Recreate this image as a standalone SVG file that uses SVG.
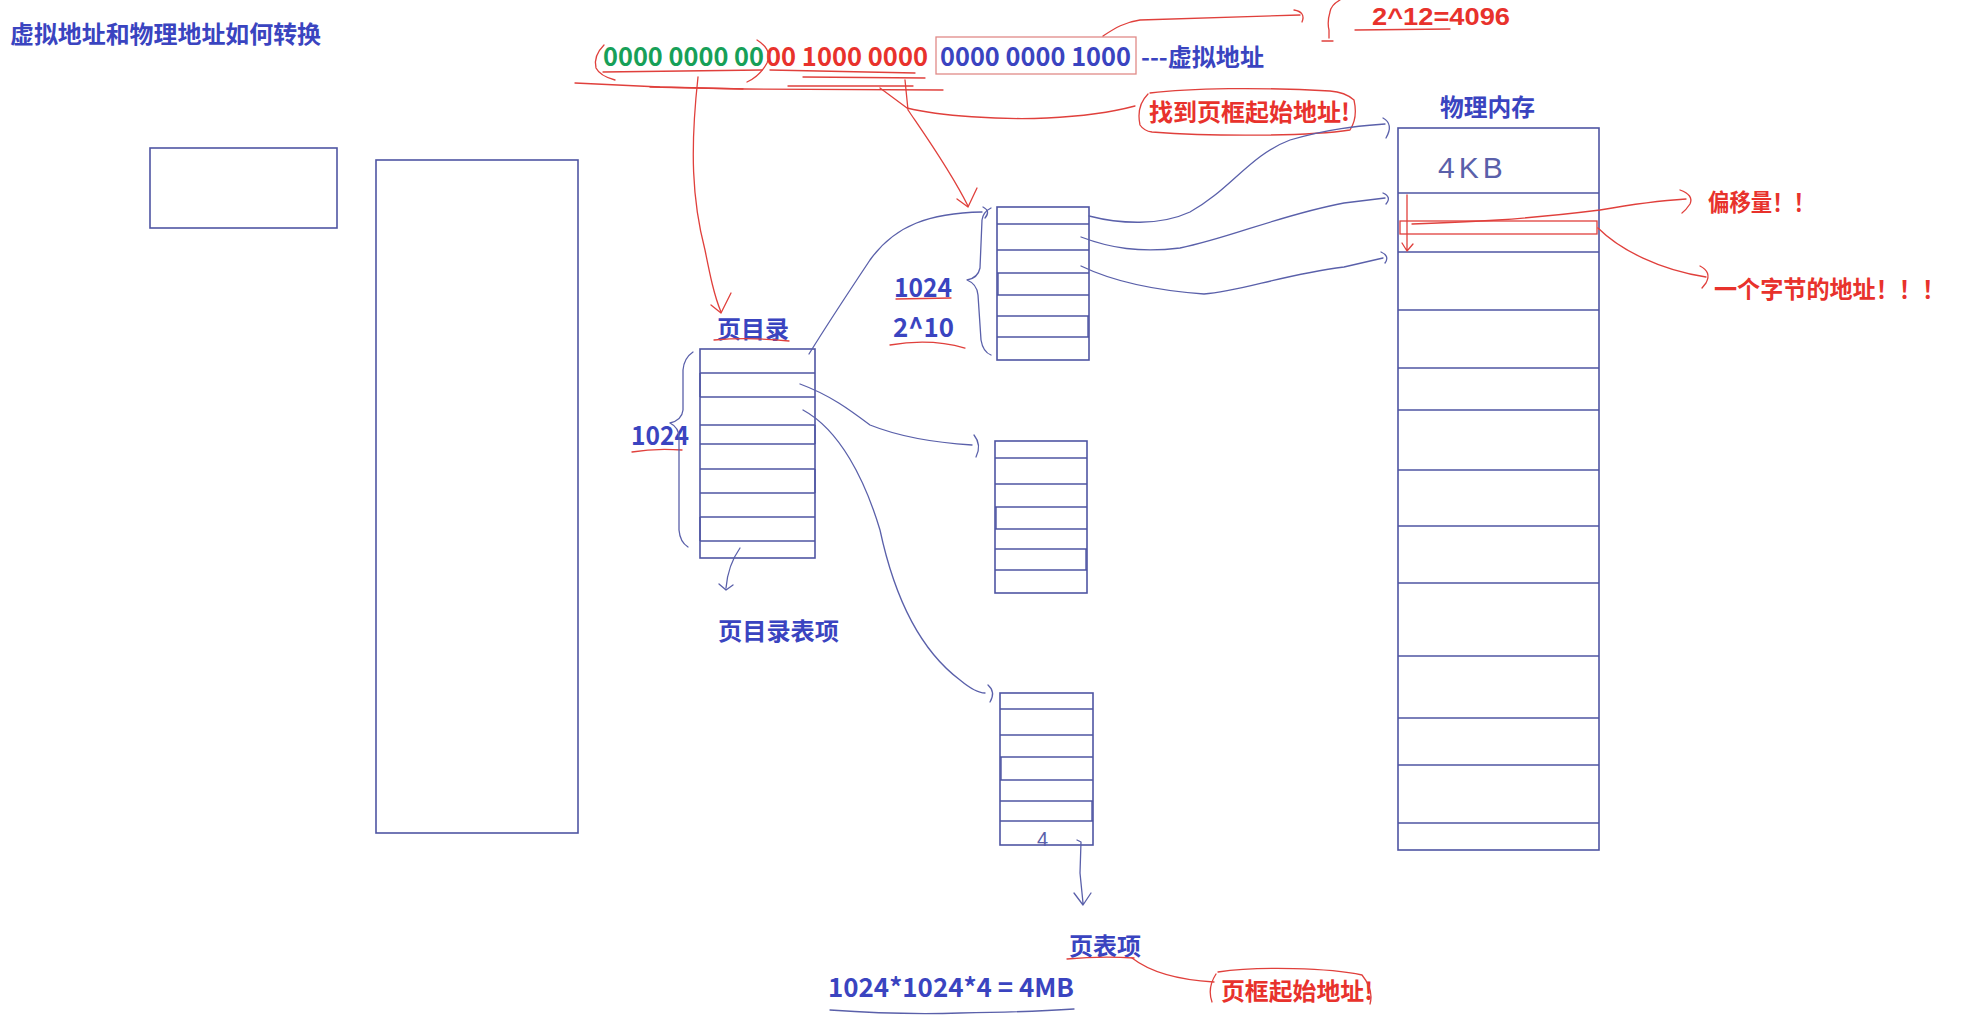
<svg xmlns="http://www.w3.org/2000/svg" width="1987" height="1027" viewBox="0 0 1987 1027">
<style>
.bg{fill:#ffffff}
.box{fill:#ffffff;stroke:#4f55a3;stroke-width:1.6}
.row{stroke:#4f55a3;stroke-width:1.4;fill:none}
.bl{fill:none;stroke:#5a60aa;stroke-width:1.3;stroke-linecap:round;stroke-linejoin:round}
.rd{fill:none;stroke:#e0403c;stroke-width:1.3;stroke-linecap:round;stroke-linejoin:round}
.t{font-family:"Noto Sans CJK SC","Noto Sans",sans-serif;font-weight:bold}
.tl{font-family:"Liberation Sans",Arial,sans-serif;font-weight:bold}
.tb{fill:#3a44c0}
.tr{fill:#e8322c}
.tg{fill:#17a058}
.hand{font-family:"Liberation Sans",sans-serif;font-weight:normal;fill:#5a60aa}
</style>
<rect class="bg" x="0" y="0" width="1987" height="1027"/>

<g id="title">
<text class="t tb" x="10" y="43" font-size="24" textLength="311" lengthAdjust="spacingAndGlyphs">虚拟地址和物理地址如何转换</text>
</g>

<g id="virtual-address">
<text class="t tg" x="603" y="66" font-size="26" textLength="161" lengthAdjust="spacingAndGlyphs">0000 0000 00</text>
<text class="t tr" x="766" y="66" font-size="26" textLength="162" lengthAdjust="spacingAndGlyphs">00 1000 0000</text>
<rect x="936" y="37" width="200" height="37" fill="none" stroke="#e08a88" stroke-width="1.3"/>
<text class="t tb" x="940" y="66" font-size="26" textLength="191" lengthAdjust="spacingAndGlyphs">0000 0000 1000</text>
<text class="t tb" x="1141" y="66" font-size="24" textLength="123" lengthAdjust="spacingAndGlyphs">---虚拟地址</text>
</g>

<g id="label-4096">
<text class="tl tr" x="1372" y="25" font-size="24" textLength="138" lengthAdjust="spacingAndGlyphs">2^12=4096</text>
</g>

<g id="label-find-frame">
<text class="t tr" x="1149" y="121" font-size="24" textLength="201" lengthAdjust="spacingAndGlyphs">找到页框起始地址!</text>
</g>

<g id="rect-a"><rect class="box" x="150" y="148" width="187" height="80"/></g>
<g id="rect-b"><rect class="box" x="376" y="160" width="202" height="673"/></g>

<g id="page-directory">
<text class="t tb" x="717" y="338" font-size="24" textLength="72" lengthAdjust="spacingAndGlyphs">页目录</text>
<rect class="box" x="700" y="349" width="115" height="209"/>
<path class="row" d="M700 373H815M700 397H815M700 425H815M700 444H815M700 469H815M700 493H815M700 517H815M700 541H815"/>
<path class="row" d="M700 373V397M815 425V444M815 469V493M700 517V541" stroke-width="2.4"/>
<text class="t tb" x="631" y="445" font-size="26" textLength="58" lengthAdjust="spacingAndGlyphs">1024</text>
<text class="t tb" x="718" y="640" font-size="24" textLength="121" lengthAdjust="spacingAndGlyphs">页目录表项</text>
</g>

<g id="page-table-1">
<rect class="box" x="997" y="207" width="92" height="153"/>
<path class="row" d="M997 224H1089M997 250H1089M997 273H1089M997 295H1089M997 316H1089M997 337H1089"/>
<path class="row" d="M998 273V295M1088 316V337" stroke-width="2.4"/>
<text class="t tb" x="894" y="297" font-size="26" textLength="58" lengthAdjust="spacingAndGlyphs">1024</text>
<text class="t tb" x="893" y="337" font-size="26" textLength="61" lengthAdjust="spacingAndGlyphs">2^10</text>
</g>

<g id="page-table-2">
<rect class="box" x="995" y="441" width="92" height="152"/>
<path class="row" d="M995 458H1087M995 484H1087M995 507H1087M995 529H1087M995 549H1087M995 570H1087"/>
<path class="row" d="M996 507V529M1086 549V570" stroke-width="2.4"/>
</g>

<g id="page-table-3">
<rect class="box" x="1000" y="693" width="93" height="152"/>
<path class="row" d="M1000 709H1093M1000 735H1093M1000 757H1093M1000 780H1093M1000 801H1093M1000 821H1093"/>
<path class="row" d="M1001 757V780M1092 801V821" stroke-width="2.4"/>
<text class="hand" x="1037" y="846" font-size="20">4</text>
<text class="t tb" x="1069" y="955" font-size="24" textLength="72" lengthAdjust="spacingAndGlyphs">页表项</text>
<text class="t tb" x="828" y="997" font-size="26" textLength="246" lengthAdjust="spacingAndGlyphs">1024*1024*4 = 4MB</text>
<text class="t tr" x="1221" y="1000" font-size="24" textLength="152" lengthAdjust="spacingAndGlyphs">页框起始地址!</text>
</g>

<g id="physical-memory">
<text class="t tb" x="1440" y="116" font-size="24" textLength="95" lengthAdjust="spacingAndGlyphs">物理内存</text>
<rect class="box" x="1398" y="128" width="201" height="722"/>
<path class="row" d="M1398 193H1599M1398 252H1599M1398 310H1599M1398 368H1599M1398 410H1599M1398 470H1599M1398 526H1599M1398 583H1599M1398 656H1599M1398 718H1599M1398 765H1599M1398 823H1599"/>
<text class="hand" x="1438" y="178" font-size="30" letter-spacing="4">4KB</text>
<rect x="1400" y="221" width="197" height="13" fill="none" stroke="#e0403c" stroke-width="1.3"/>
<text class="t tr" x="1708" y="211" font-size="24" textLength="107" lengthAdjust="spacingAndGlyphs">偏移量！！</text>
<text class="t tr" x="1714" y="298" font-size="24" textLength="231" lengthAdjust="spacingAndGlyphs">一个字节的地址！！！</text>
</g>

<g id="connectors">
<path class="rd" d="M604 45Q593 56 596 68Q600 76 615 80"/>
<path class="rd" d="M757 40Q773 50 767 63Q760 76 747 82"/>
<path class="rd" d="M603 72L762 70"/>
<path class="rd" d="M575 83L660 87L745 89L943 90"/>
<path class="rd" d="M650 87L743 89" stroke-width="2.2"/>
<path class="rd" d="M770 70L915 73M803 77L925 78M788 86L913 86"/>
<path class="rd" d="M698 77C690 150 692 200 705 250C710 275 714 295 721 312"/>
<path class="rd" d="M711 305L721 313L731 293"/>
<path class="rd" d="M905 80L908 110C925 135 950 170 968 206"/>
<path class="rd" d="M957 199L968 207L977 188"/>
<path class="rd" d="M880 88L907 108C940 116 1000 120 1047 118C1090 116 1120 110 1135 106"/>
<path class="rd" d="M1148 94Q1136 106 1140 125Q1144 131 1152 132C1220 137 1310 136 1350 130Q1358 118 1354 100Q1345 92 1330 91C1260 87 1190 88 1150 93"/>
<path class="rd" d="M1103 36C1115 28 1125 22 1140 20L1300 15"/>
<path class="rd" d="M1294 10Q1306 12 1302 22"/>
<path class="rd" d="M1340 0Q1331 5 1330 12Q1327 22 1329 30L1329 38M1322 41L1333 41"/>
<path class="rd" d="M1355 30L1450 29"/>
<path class="rd" d="M714 340Q750 337 789 341"/>
<path class="rd" d="M632 452Q655 448 682 450"/>
<path class="rd" d="M896 299L951 298"/>
<path class="rd" d="M890 345Q930 338 965 348"/>
<path class="rd" d="M1067 959Q1100 956 1134 958"/>
<path class="rd" d="M1132 958C1150 972 1180 980 1214 982"/>
<path class="rd" d="M1216 974Q1207 988 1212 1002M1218 972C1260 966 1330 968 1362 975Q1374 990 1370 1004"/>
<path class="bl" d="M830 1010Q900 1015 960 1013Q1030 1012 1074 1009"/>
<path class="rd" d="M1407 195L1407 250M1402 243L1407 251L1413 244"/>
<path class="rd" d="M1412 224C1470 222 1520 220 1600 210C1640 203 1670 200 1686 199"/>
<path class="rd" d="M1680 190Q1694 195 1690 204Q1686 210 1682 213"/>
<path class="rd" d="M1598 228C1620 250 1660 270 1706 277"/>
<path class="rd" d="M1700 266Q1712 272 1706 283L1702 288"/>
<path class="bl" d="M809 354C830 320 850 290 870 260C895 225 930 213 982 212"/>
<path class="bl" d="M983 207Q991 211 985 218"/>
<path class="bl" d="M991 208Q983 212 982 220L980 268Q978 278 967 280Q977 284 978 295L981 340Q983 352 991 355"/>
<path class="bl" d="M800 384C830 395 850 410 870 425C900 437 940 443 972 445"/>
<path class="bl" d="M974 435Q982 445 976 457"/>
<path class="bl" d="M803 410C840 430 865 480 880 530C895 600 920 650 960 680C972 690 980 693 985 693"/>
<path class="bl" d="M988 685Q996 692 990 702"/>
<path class="bl" d="M693 352Q684 358 683 370L683 410Q682 420 670 423Q680 428 679 440L679 530Q680 542 688 547"/>
<path class="bl" d="M740 548Q728 565 726 588M719 584L726 590L733 585"/>
<path class="bl" d="M1077 840L1081 842L1080 873L1083 903M1074 893L1083 905L1091 893"/>
<path class="bl" d="M1089 216C1120 224 1160 226 1190 212C1230 190 1250 155 1290 140C1330 128 1360 126 1385 124"/>
<path class="bl" d="M1383 118Q1394 124 1386 138"/>
<path class="bl" d="M1081 237C1110 248 1140 253 1180 248C1230 238 1280 215 1344 203L1385 198"/>
<path class="bl" d="M1383 193Q1392 197 1386 204"/>
<path class="bl" d="M1081 266C1110 280 1150 290 1204 294C1240 292 1280 275 1344 267L1383 258"/>
<path class="bl" d="M1381 252Q1390 256 1385 263"/>
</g>
</svg>
